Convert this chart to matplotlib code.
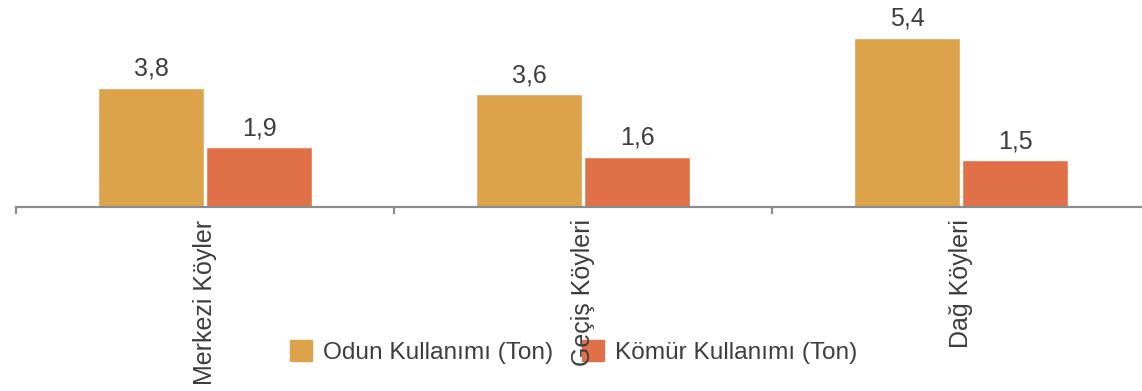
import matplotlib
matplotlib.use("Agg")
import matplotlib.pyplot as plt
import numpy as np

# Village groups and yearly fuel consumption (tons)
categories = ["Merkezi Köyler", "Geçiş Köyleri", "Dağ Köyleri"]
odun = [3.8, 3.6, 5.4]
komur = [1.9, 1.6, 1.5]
series_names = ["Odun Kullanımı (Ton)", "Kömür Kullanımı (Ton)"]
colors = ["#DCA34B", "#E07048"]

plt.rcParams["font.family"] = ["Liberation Sans", "DejaVu Sans"]
text_color = "#3d3d3d"
fs = 18

W, H = 1142, 391
fig = plt.figure(figsize=(W / 100, H / 100), dpi=100)
ax = fig.add_axes([16 / W, 184 / H, 1134 / W, 185 / H])
ax.patch.set_alpha(0)

x = np.arange(len(categories)) + 0.5
bw = 0.28
off = 0.143
for vals, dx, c in [(odun, -off, colors[0]), (komur, off, colors[1])]:
    bars = ax.bar(x + dx, vals, width=bw, color=c, edgecolor="white", linewidth=1)
    for b, v in zip(bars, vals):
        ax.annotate(f"{v:.1f}".replace(".", ","),
                    (b.get_x() + b.get_width() / 2, v),
                    xytext=(0, 5), textcoords="offset points",
                    ha="center", va="bottom", fontsize=fs, color=text_color)

ax.set_xlim(0, 3)
ax.set_ylim(0, 5.9)
for s in ["left", "right", "top"]:
    ax.spines[s].set_visible(False)
ax.spines["bottom"].set_color("#8c8c8c")
ax.spines["bottom"].set_linewidth(1.6)
ax.set_yticks([])

ax.set_xticks(x)
ax.set_xticklabels(categories, rotation=90, fontsize=fs, color=text_color,
                   va="top", ha="center")
ax.tick_params(axis="x", which="major", length=0, pad=9)
ax.set_xticks([0, 1, 2, 3], minor=True)
ax.tick_params(axis="x", which="minor", length=5, width=1.6, color="#8c8c8c")

handles = [plt.Rectangle((0, 0), 1, 1, color=c) for c in colors]
leg = fig.legend(handles, series_names, loc="center",
                 bbox_to_anchor=(573.5 / W, 39 / H), ncol=2, frameon=False,
                 fontsize=17.6, handlelength=0.9, handleheight=0.9,
                 handletextpad=0.45, columnspacing=1.2, labelcolor=text_color)
leg.set_zorder(-1)

fig.savefig("out.png", dpi=100)
